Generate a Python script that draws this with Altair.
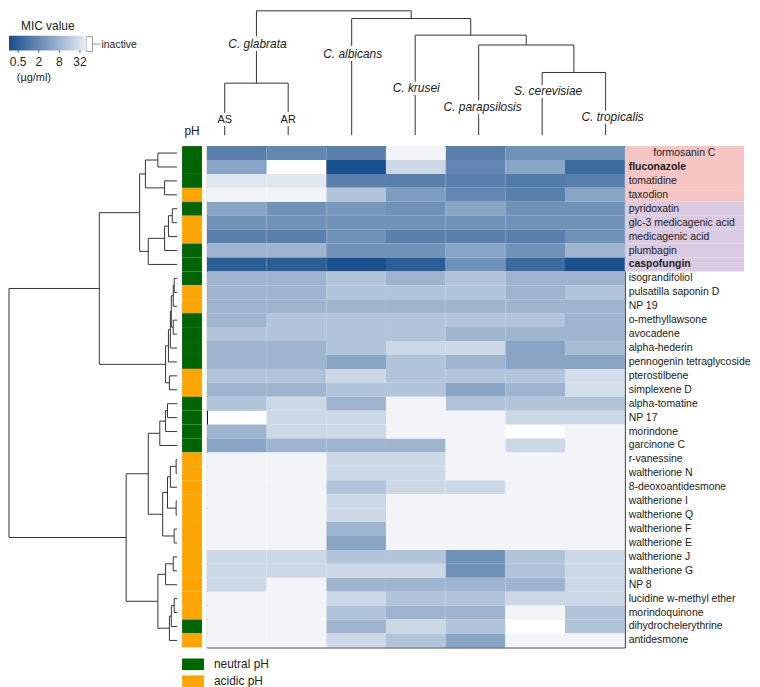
import altair as alt
import pandas as pd

FONT = "Liberation Sans"

# ---------------- data ----------------
strains = ["AS", "AR", "C. albicans", "C. krusei", "C. parapsilosis",
           "S. cerevisiae", "C. tropicalis"]

compounds = ["formosanin C", "fluconazole", "tomatidine", "taxodion", "pyridoxatin",
             "glc-3 medicagenic acid", "medicagenic acid", "plumbagin", "caspofungin",
             "isograndifoliol", "pulsatilla saponin D", "NP 19", "o-methyllawsone",
             "avocadene", "alpha-hederin", "pennogenin tetraglycoside", "pterostilbene",
             "simplexene D", "alpha-tomatine", "NP 17", "morindone", "garcinone C",
             "r-vanessine", "waltherione N", "8-deoxoantidesmone", "waltherione I",
             "waltherione Q", "waltherione F", "waltherione E", "waltherione J",
             "waltherione G", "NP 8", "lucidine w-methyl ether", "morindoquinone",
             "dihydrochelerythrine", "antidesmone"]

N, A = "neutral pH", "acidic pH"
ph_levels = [N, A]
ph = [N, N, N, A, N, A, A, N, N,
      N, A, A, N, N, N, N, A, A,
      N, N, N, N, A, A, A, A, A, A, A,
      A, A, A, A, A, N, A]

I = None      # inactive
NT = "nt"     # not tested (blank)
# MIC (µg/ml) per compound, columns in the order of `strains`
mic = [
    [1.4, 1.8, 1.4, I, 1.4, 2.5, 2.5],
    [4.7, NT, 0.3, 25, 1.8, 4.7, 0.7],
    [40, 40, 1.4, 1.4, 1.4, 1.2, 1.4],
    [I, I, 13, 3.5, 1.8, 1.4, 4.7],
    [4.7, 2.5, 3, 2.5, 4.7, 2.5, 2.5],
    [2.5, 2.5, 2.5, 2.5, 2.5, 2.5, 2.5],
    [1.4, 1.4, 2.5, 1.4, 1.4, 1.4, 2.5],
    [8, 8, 2.5, 2.5, 4.7, 2.5, 8],
    [0.45, 0.45, 0.3, 0.45, 2.5, 0.7, 0.3],
    [8, 8, 13, 8, 13, 8, 8],
    [8, 8, 13, 13, 13, 8, 13],
    [8, 8, 8, 8, 8, 8, 8],
    [8, 13, 13, 13, 13, 13, 8],
    [13, 13, 13, 13, 8, 8, 8],
    [8, 8, 13, 25, 25, 4.7, 10],
    [8, 8, 4.7, 13, 8, 4.7, 4.7],
    [13, 13, 25, 13, 13, 13, 30],
    [8, 8, 13, 13, 4.7, 8, 30],
    [13, 25, 8, I, 13, 13, 13],
    [NT, 25, 25, I, I, 25, 25],
    [8, 25, 25, I, I, NT, I],
    [4.7, 8, 8, 8, I, 25, I],
    [I, I, 25, 25, I, I, I],
    [I, I, 25, 25, I, I, I],
    [I, I, 13, 25, 25, I, I],
    [I, I, 25, I, I, I, I],
    [I, I, 25, I, I, I, I],
    [I, I, 8, I, I, I, I],
    [I, I, 4.7, I, I, I, I],
    [25, 25, 13, 13, 2.5, 13, 25],
    [25, 25, 25, 25, 2.5, 13, 25],
    [25, I, 8, 8, 8, 8, 25],
    [I, I, 25, 13, 13, 25, 25],
    [I, I, 13, 8, 8, I, 13],
    [I, I, 8, 25, 13, NT, 13],
    [I, I, 25, 13, 4.7, I, I],
]

legend_ticks = [0.5, 2, 8, 32]

bold_compounds = ["fluconazole", "caspofungin"]
reference_group = ["formosanin C", "fluconazole", "tomatidine", "taxodion"]
second_group = ["pyridoxatin", "glc-3 medicagenic acid", "medicagenic acid",
                "plumbagin", "caspofungin"]

# row dendrogram: (node, child a, child b, height); ints are row indices
row_links = [
    ("T1", 0, 1, 20), ("T2", 2, 3, 13), ("T3", "T1", "T2", 33),
    ("T4", 4, 5, 5), ("T5", "T4", 6, 9), ("T6", "T5", 7, 13), ("T7", "T6", 8, 30),
    ("T8", "T3", "T7", 39),
    ("M1", 9, 10, 3), ("M2", "M1", 11, 4), ("M3", 12, 13, 4), ("M4", "M2", "M3", 6),
    ("M5", "M4", 14, 7), ("M6", "M5", 15, 9), ("M7", 16, 17, 8), ("M8", "M6", "M7", 12),
    ("U", "T8", "M8", 81),
    ("B1", 18, 19, 10), ("B2", "B1", 20, 12), ("B3", "B2", 21, 18),
    ("B4", 22, 23, 1), ("B5", "B4", 24, 7), ("B6", 25, 26, 1), ("B7", "B5", "B6", 10),
    ("B8", 27, 28, 3), ("B9", "B7", "B8", 15), ("B10", "B3", "B9", 30),
    ("C1", 29, 30, 4), ("C2", "C1", 31, 12), ("C3", 32, 33, 3), ("C4", "C3", 34, 6),
    ("C5", "C4", 35, 8), ("C6", "C2", "C5", 20),
    ("B11", "B10", "C6", 53),
    ("R", "U", "B11", 175),
]

# column dendrogram; ints are indices in `strains`
col_links = [
    ("G", 0, 1, 4.18), ("S", 5, 6, 5.04), ("P", 4, "S", 7.25),
    ("K", 3, "P", 8.04), ("Al", 2, "K", 9.38), ("root", "G", "Al", 10),
]
col_label_names = ["AS", "AR", "C. glabrata", "C. albicans", "C. krusei",
                   "C. parapsilosis", "S. cerevisiae", "C. tropicalis"]
col_label_anchor = [0, 1, 0.5, 2, 3, 4, 5, 6]

# ---------------- layout constants (not data) ----------------
HM_W, HM_H = 420, 504
TOP_H = 135
PX_PER_LEAF = 63.83
GRAD_LEN = 78
MIC_DOMAIN = [0.27, 50]
# (dx px, y px in panel, italic)
col_label_layout = [(0, 110, False), (0, 110, False), (1, 33, True), (1, 43, True),
                    (1, 78, True), (4, 97, True), (6, 81, True), (7, 107, True)]
LINE = "#333333"
TXT = "#1a1a1a"


def dendro_segments(links, leaf_offset):
    pos, hgt, segs = {}, {}, []

    def where(c):
        if isinstance(c, int):
            return c + leaf_offset, 0.0
        return pos[c], hgt[c]

    for name, a, b, h in links:
        pa, ha = where(a)
        pb, hb = where(b)
        segs += [
            {"p": pa, "p2": pa, "h": ha, "h2": h},
            {"p": pb, "p2": pb, "h": hb, "h2": h},
            {"p": pa, "p2": pb, "h": h, "h2": h},
        ]
        pos[name] = (pa + pb) / 2
        hgt[name] = h
    return pd.DataFrame(segs)


# ---------------- tables ----------------
cells = []
for r, comp in enumerate(compounds):
    for c, st in enumerate(strains):
        v = mic[r][c]
        if v is None:
            cells.append({"compound": comp, "strain": st, "mic": None, "status": "inactive"})
        elif v == NT:
            cells.append({"compound": comp, "strain": st, "mic": None, "status": "nt"})
        else:
            cells.append({"compound": comp, "strain": st, "mic": float(v), "status": "active"})
cells_df = pd.DataFrame(cells)

lab_df = pd.DataFrame({
    "compound": compounds,
    "bold": [c in bold_compounds for c in compounds],
    "group": ["ref" if c in reference_group else ("sec" if c in second_group else "")
              for c in compounds],
    "centered": [i == 0 for i in range(len(compounds))],
})

ph_df = pd.DataFrame({"compound": compounds, "ph": ph})

row_seg = dendro_segments(row_links, 0.5)
col_seg = dendro_segments(col_links, 0.0)

col_lab_df = pd.DataFrame({
    "label": col_label_names,
    "p": [a + lay[0] / PX_PER_LEAF for a, lay in zip(col_label_anchor, col_label_layout)],
    "ypx": [lay[1] for lay in col_label_layout],
    "italic": [lay[2] for lay in col_label_layout],
})

# ---------------- heatmap ----------------
X_ENC = alt.X("strain:N", sort=strains, axis=None,
              scale=alt.Scale(domain=strains, paddingInner=0, paddingOuter=0))
Y_ENC = alt.Y("compound:N", sort=compounds, axis=None,
              scale=alt.Scale(domain=compounds, paddingInner=0, paddingOuter=0))

mic_scale = alt.Scale(type="log", base=2, domain=MIC_DOMAIN,
                      range=["#174d8c", "#e8edf4"], interpolate="rgb", clamp=True)

active = alt.Chart(cells_df).transform_filter("datum.status == 'active'").mark_rect().encode(
    x=X_ENC, y=Y_ENC,
    color=alt.Color("mic:Q", scale=mic_scale, legend=alt.Legend(
        title="MIC value", orient="none", legendX=0, legendY=10, direction="horizontal",
        gradientLength=GRAD_LEN, gradientThickness=15, values=legend_ticks, format="~g",
        titleFontSize=12, titleFontWeight="normal", titleFont=FONT, titleAnchor="middle",
        titlePadding=3, labelFontSize=12, labelFont=FONT, labelOffset=6,
        labelColor="#222222", titleColor="#222222")),
)
inactive = alt.Chart(cells_df).transform_filter("datum.status == 'inactive'").mark_rect(
    color="#f3f4f7").encode(x=X_ENC, y=Y_ENC)

hl = alt.Chart(lab_df).transform_filter("datum.group != ''").mark_rect().encode(
    y=Y_ENC, x=alt.value(HM_W), x2=alt.value(HM_W + 120),
    color=alt.condition("datum.group == 'ref'", alt.value("#f5c6c4"), alt.value("#dacbe3")),
)

txt_kw = dict(baseline="middle", fontSize=10.5, font=FONT, color=TXT)
txt_left = alt.Chart(lab_df).transform_filter("!datum.centered && !datum.bold").mark_text(
    align="left", **txt_kw).encode(y=Y_ENC, x=alt.value(HM_W + 4), text="compound:N")
txt_bold = alt.Chart(lab_df).transform_filter("datum.bold").mark_text(
    align="left", fontWeight="bold", **txt_kw).encode(y=Y_ENC, x=alt.value(HM_W + 4), text="compound:N")
txt_center = alt.Chart(lab_df).transform_filter("datum.centered").mark_text(
    align="center", **txt_kw).encode(y=Y_ENC, x=alt.value(HM_W + 60), text="compound:N")

heatmap = alt.layer(hl, active, inactive, txt_left, txt_bold, txt_center).properties(
    width=HM_W, height=HM_H, view=alt.ViewBackground(stroke="black", strokeWidth=1))

# ---------------- pH strip ----------------
ph_strip = alt.Chart(ph_df).mark_rect().encode(
    y=Y_ENC,
    fill=alt.Fill("ph:N", scale=alt.Scale(domain=ph_levels, range=["#006400", "#ffa500"]),
                  legend=alt.Legend(title=None, orient="none", legendX=174, legendY=646,
                                    symbolType="M-1,-0.53H1V0.53H-1Z", symbolSize=484,
                                    symbolStrokeWidth=0, labelFontSize=12, labelFont=FONT,
                                    labelOffset=10, rowPadding=0, labelColor="#222222")),
).properties(width=20, height=HM_H)

# ---------------- row dendrogram ----------------
row_dendro = alt.Chart(row_seg).mark_rule(color=LINE, strokeWidth=1).encode(
    x=alt.X("h:Q", scale=alt.Scale(domain=[0, 175], reverse=True, nice=False, zero=False), axis=None),
    x2="h2:Q",
    y=alt.Y("p:Q", scale=alt.Scale(domain=[0, 36], reverse=True, nice=False, zero=False), axis=None),
    y2="p2:Q",
).properties(width=169, height=HM_H)

# ---------------- column dendrogram ----------------
CX = alt.X("p:Q", scale=alt.Scale(domain=[-0.28, 6.30], nice=False, zero=False), axis=None)
col_lines = alt.Chart(col_seg).mark_rule(color=LINE, strokeWidth=1).encode(
    x=CX, x2="p2:Q",
    y=alt.Y("h:Q", scale=alt.Scale(domain=[-0.8, 10], nice=False, zero=False), axis=None),
    y2="h2:Q",
)


def col_text(italic, halo):
    kw = dict(fontSize=12 if italic else 11, font=FONT, align="center", baseline="middle")
    if italic:
        kw["fontStyle"] = "italic"
    if halo:
        kw.update(fill="white", stroke="white", strokeWidth=6)
    else:
        kw.update(color=TXT)
    filt = "datum.italic" if italic else "!datum.italic"
    return alt.Chart(col_lab_df).transform_filter(filt).mark_text(**kw).encode(
        x=CX, y=alt.Y("ypx:Q", scale=None), text="label:N")


col_dendro = alt.layer(
    col_lines, col_text(True, True), col_text(False, True),
    col_text(True, False), col_text(False, False),
).properties(width=HM_W, height=TOP_H)

# ---------------- legend extras panel (also holds the pH strip heading) ----------------
extra_df = pd.DataFrame({"inactive": ["inactive"], "unit": ["(µg/ml)"], "ph": ["pH"]})
ex = alt.Chart(extra_df)
tick_df = pd.DataFrame({"v": legend_ticks})
legend_tick_marks = alt.Chart(tick_df).mark_rule(color="#444444", strokeWidth=1).encode(
    x=alt.X("v:Q", scale=alt.Scale(type="log", base=2, domain=MIC_DOMAIN, range=[0, GRAD_LEN]),
            axis=None),
    y=alt.value(38), y2=alt.value(42),
)
leg_panel = alt.layer(
    legend_tick_marks,
    ex.mark_rect(fill="white", stroke="#9a9a9a", strokeWidth=1).encode(
        x=alt.value(78), x2=alt.value(84), y=alt.value(26), y2=alt.value(41)),
    ex.mark_rule(color="#9a9a9a", strokeWidth=1).encode(
        x=alt.value(84), x2=alt.value(92), y=alt.value(33.5)),
    ex.mark_text(align="left", baseline="middle", fontSize=10.5, font=FONT, color="#222222").encode(
        x=alt.value(93), y=alt.value(34), text="inactive:N"),
    ex.mark_text(align="center", baseline="middle", fontSize=11, font=FONT, color="#222222").encode(
        x=alt.value(25), y=alt.value(68), text="unit:N"),
    ex.mark_text(align="center", baseline="middle", fontSize=12, font=FONT, color="#222222").encode(
        x=alt.value(184), y=alt.value(121), text="ph:N"),
).properties(width=194, height=TOP_H)

top = alt.hconcat(leg_panel, col_dendro, spacing=5, bounds="flush")
bottom = alt.hconcat(row_dendro, ph_strip, heatmap, spacing=5, bounds="flush")

chart = alt.vconcat(top, bottom, spacing=0).properties(
    padding=0
).configure(font=FONT).configure_view(strokeWidth=0)

chart.save("out.html", embed_options={"renderer": "svg", "actions": False})
